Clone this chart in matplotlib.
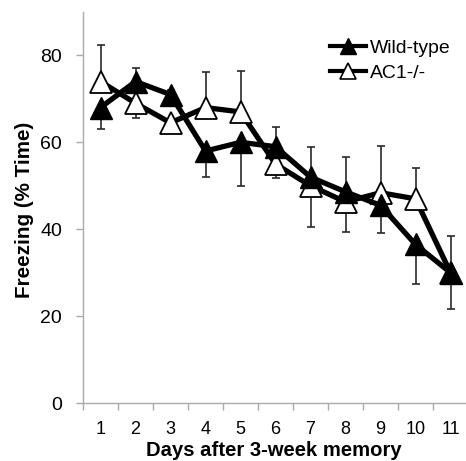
import matplotlib
matplotlib.use("Agg")
import matplotlib.pyplot as plt
from matplotlib.lines import Line2D

plt.rcParams['font.family'] = ['Liberation Sans', 'DejaVu Sans']

days = [1, 2, 3, 4, 5, 6, 7, 8, 9, 10, 11]
day_labels = ['1', '2', '3', '4', '5', '6', '7', '8', '9', '10', '11']
wt_mean = [68, 74, 71, 58, 60, 59, 52, 48.6, 45.5, 36.5, 30]
wt_err_lo = [5, 0, 0, 6, 10, 0, 0, 0, 6.3, 9, 8.3]
wt_err_hi = [0, 3, 1, 0, 0, 4.6, 7, 8, 0, 0, 0]
ac1_mean = [74, 69, 64.5, 68, 67, 55, 50, 46.3, 48.4, 47, 30]
ac1_err_lo = [0, 3.5, 2.3, 0, 0, 3.2, 9.5, 7, 0, 0, 0]
ac1_err_hi = [8.3, 0, 0, 8.3, 9.5, 0, 0, 0, 10.8, 7, 8.5]

W, H = 466, 461
fig = plt.figure(figsize=(W / 100, H / 100), dpi=100)
ax = fig.add_axes([83 / W, 58 / H, 385 / W, 391 / H])

ecol = '#2a2a2a'
ax.errorbar(days, wt_mean, yerr=[wt_err_lo, wt_err_hi], fmt='none', ecolor=ecol,
            elinewidth=1.2, capsize=3, capthick=1.2, zorder=1)
ax.errorbar(days, ac1_mean, yerr=[ac1_err_lo, ac1_err_hi], fmt='none', ecolor=ecol,
            elinewidth=1.2, capsize=3, capthick=1.2, zorder=1)
ax.plot(days, ac1_mean, color='black', lw=3.8, marker='^', ms=16.5,
        mfc='white', mec='black', mew=1.3, zorder=2)
ax.plot(days, wt_mean, color='black', lw=3.8, marker='^', ms=16.5,
        mfc='black', mec='black', zorder=3)

ax.set_xlim(0.5, 11.5)
ax.set_ylim(0, 90)
ax.set_yticks([0, 20, 40, 60, 80])
ax.set_xticks(days)
ax.set_xticklabels(day_labels, fontsize=13)
ax.set_xticks([d + 0.5 for d in [0] + days], minor=True)
ax.tick_params(axis='x', which='major', length=0, pad=13)
ax.tick_params(axis='x', which='minor', length=5, color='#aaaaaa', width=1)
ax.tick_params(axis='y', length=5, color='#aaaaaa', width=1, pad=10, labelsize=14)

for s in ['top', 'right']:
    ax.spines[s].set_visible(False)
for s in ['left', 'bottom']:
    ax.spines[s].set_color('#aaaaaa')
    ax.spines[s].set_linewidth(1)

xl = ax.set_xlabel('Days after 3-week memory', fontsize=13, fontweight='bold')
yl = ax.set_ylabel('Freezing (% Time)', fontsize=13, fontweight='bold')
xl.set_va('center')
yl.set_va('center')
ax.xaxis.set_label_coords((274 - 83) / 385, (403 - 450) / 391)
ax.yaxis.set_label_coords((25 - 83) / 385, (403 - 210) / 391)

renderer = fig.canvas.get_renderer()


def fit(txt, target, use_height=False):
    for _ in range(3):
        bb = txt.get_window_extent(renderer)
        cur = bb.height if use_height else bb.width
        txt.set_fontsize(txt.get_fontsize() * target / cur)


fit(xl, 255)
fit(yl, 175, use_height=True)

probe = fig.text(0, 0, 'Wild-type', fontsize=13)
fit(probe, 81)
lfs = probe.get_fontsize()
probe.remove()
fs_px = lfs * 100 / 72

handles = [Line2D([], [], color='black', lw=3, marker='^', ms=11, mfc='black', mec='black'),
           Line2D([], [], color='black', lw=3, marker='^', ms=11, mfc='white', mec='black', mew=1.2)]
ax.legend(handles, ['Wild-type', 'AC1-/-'], loc='upper left', frameon=False,
          fontsize=lfs, handlelength=36 / fs_px, handletextpad=4 / fs_px,
          labelspacing=0.4, borderpad=0, borderaxespad=0,
          bbox_to_anchor=(330 / W, 1 - 39 / H), bbox_transform=fig.transFigure)

fig.savefig('out.png', dpi=100)
